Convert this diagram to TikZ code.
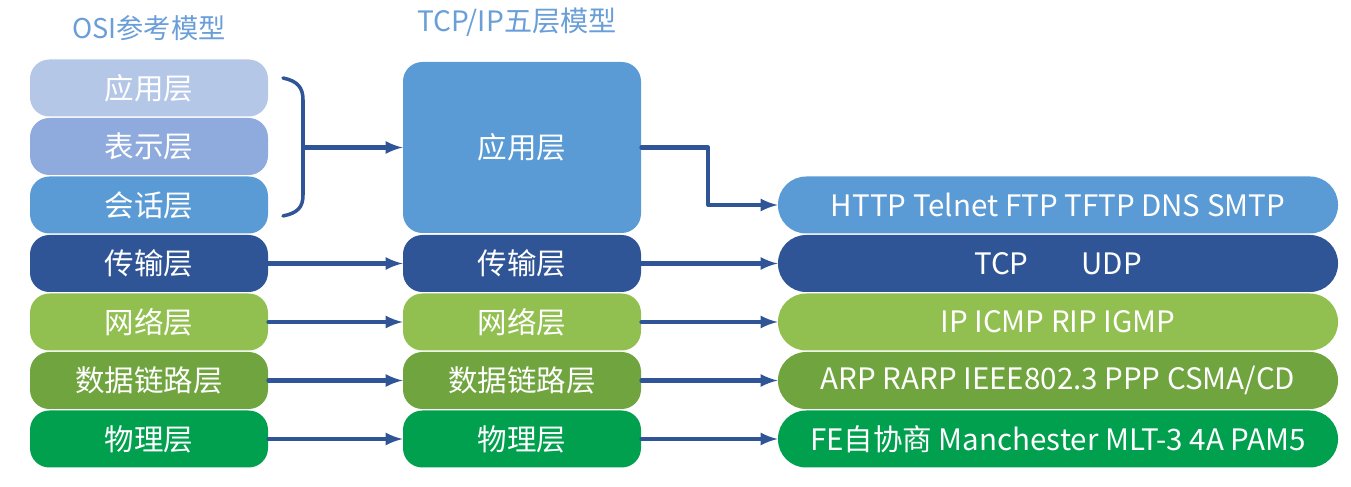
\documentclass[tikz,border=0pt]{standalone}
\usepackage{fontspec}
\setmainfont{Noto Sans CJK SC}
\usetikzlibrary{arrows.meta}
\begin{document}
\begin{tikzpicture}[x=1cm,y=1cm,>=latex,font=\fontsize{16.8}{18}\selectfont,line cap=round,line join=round]
\definecolor{appc}{HTML}{B4C7E7}
\definecolor{prec}{HTML}{8FAADC}
\definecolor{sesc}{HTML}{5B9BD5}
\definecolor{trac}{HTML}{2F5597}
\definecolor{netc}{HTML}{92C050}
\definecolor{linc}{HTML}{70A43F}
\definecolor{phyc}{HTML}{00A04E}
\definecolor{arrc}{HTML}{2F5597}
\definecolor{titc}{HTML}{6A9ED8}

\tikzset{
layer/.style={text=white, rounded corners=11pt, minimum height=1.14cm, inner sep=0pt},
osibox/.style={layer, minimum width=4.76cm},
tcpbox/.style={layer, minimum width=4.76cm},
protobox/.style={layer, rounded corners=16pt, minimum width=11.2cm},
arr/.style={arrc, line width=2.3pt, -latex}
}

\useasboundingbox (0,0) rectangle (27.02,-9.74);

% titles
\node[text=titc, font=\fontsize{15.5}{17}\selectfont] (osititle) at (2.98,-0.56) {OSI参考模型};
\node[text=titc, font=\fontsize{16}{17}\selectfont] (tcptitle) at (10.34,-0.44) {TCP/IP五层模型};

% OSI column
\node[osibox, fill=appc] (oapp) at (2.98,-1.76) {应用层};
\node[osibox, fill=prec] (opre) at (2.98,-2.93) {表示层};
\node[osibox, fill=sesc] (oses) at (2.98,-4.10) {会话层};
\node[osibox, fill=trac] (otra) at (2.98,-5.27) {传输层};
\node[osibox, fill=netc] (onet) at (2.98,-6.44) {网络层};
\node[osibox, fill=linc] (olin) at (2.98,-7.61) {数据链路层};
\node[osibox, fill=phyc] (ophy) at (2.98,-8.78) {物理层};

% TCP/IP column
\node[tcpbox, fill=sesc, minimum height=3.42cm] (tapp) at (10.44,-2.95) {应用层};
\node[tcpbox, fill=trac] (ttra) at (10.44,-5.27) {传输层};
\node[tcpbox, fill=netc] (tnet) at (10.44,-6.44) {网络层};
\node[tcpbox, fill=linc] (tlin) at (10.44,-7.61) {数据链路层};
\node[tcpbox, fill=phyc] (tphy) at (10.44,-8.78) {物理层};

% protocols
\node[protobox, fill=sesc] (papp) at (21.16,-4.10) {HTTP Telnet FTP TFTP DNS SMTP};
\node[protobox, fill=trac] (ptra) at (21.16,-5.27) {TCP\hspace{1.8em}UDP};
\node[protobox, fill=netc] (pnet) at (21.16,-6.44) {IP ICMP RIP IGMP};
\node[protobox, fill=linc] (plin) at (21.16,-7.61) {ARP RARP IEEE802.3 PPP CSMA/CD};
\node[protobox, fill=phyc] (pphy) at (21.16,-8.78) {FE自协商 Manchester MLT-3 4A PAM5};

% bracket
\draw[arrc, line width=2pt] (5.66,-1.56) .. controls (5.95,-1.62) and (6.06,-1.75) .. (6.06,-2.0) -- (6.06,-3.9) .. controls (6.06,-4.15) and (5.95,-4.26) .. (5.66,-4.32);
\coordinate (brk) at (6.06,-2.95);

% arrows
\draw[arr] (brk) -- (tapp.west);
\draw[arr] (tapp.east) -- ++(1.34,0) |- (papp.west);
\draw[arr] (otra.east) -- (ttra.west);
\draw[arr] (onet.east) -- (tnet.west);
\draw[arr] (olin.east) -- (tlin.west);
\draw[arr] (ophy.east) -- (tphy.west);
\draw[arr] (ttra.east) -- (ptra.west);
\draw[arr] (tnet.east) -- (pnet.west);
\draw[arr] (tlin.east) -- (plin.west);
\draw[arr] (tphy.east) -- (pphy.west);
\end{tikzpicture}
\end{document}
